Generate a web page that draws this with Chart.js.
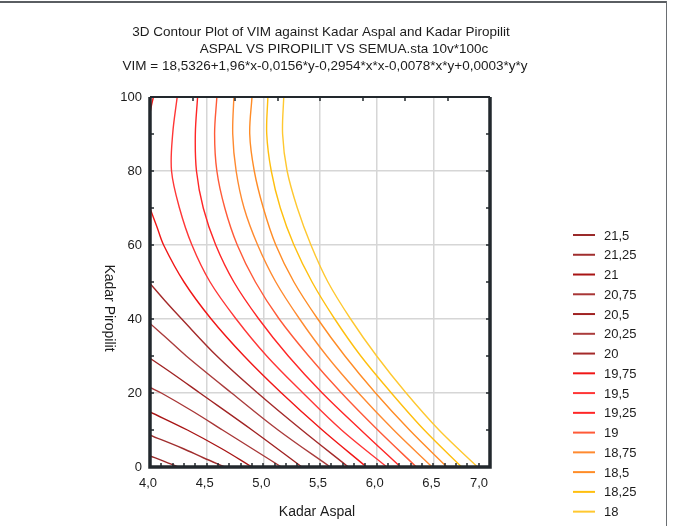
<!DOCTYPE html>
<html>
<head>
<meta charset="utf-8">
<script src="https://cdn.jsdelivr.net/npm/chart.js@4.4.1/dist/chart.umd.min.js"></script>
<style>
  html, body { margin: 0; padding: 0; background: #fff; }
  #wrap { position: relative; width: 675px; height: 526px; }
  #wrap::before { content: ''; position: absolute; left: 0; top: 1px; width: 667px; height: 0; border-top: 2px solid #5a5e62; }
  #wrap::after { content: ''; position: absolute; left: 666px; top: 1px; width: 0; height: 525px; border-left: 1.5px solid #6a6e72; }
</style>
</head>
<body>
<div id="wrap"><canvas id="contourChart" width="675" height="526"></canvas></div>
<script>
'use strict';

// contour levels, top of the legend first
const levels = [21.5, 21.25, 21, 20.75, 20.5, 20.25, 20, 19.75, 19.5, 19.25, 19, 18.75, 18.5, 18.25, 18];

// one polyline per level, [Kadar Aspal, Kadar Piropilit], ordered from top to bottom
const line2150 = [[4.00, 3.0], [4.12, 1.6], [4.25, 0]];
const line2125 = [[4.00, 8.6], [4.29, 5], [4.47, 2.5], [4.66, 0]];
const line2100 = [[4.00, 14.9], [4.33, 10], [4.63, 5], [4.90, 0]];
const line2075 = [[4.00, 21.5], [4.10, 20], [4.38, 15], [4.64, 10], [4.90, 5], [5.16, 0]];
const line2050 = [[4.00, 29.4], [4.21, 25], [4.44, 20], [4.90, 10], [5.34, 0]];
const line2025 = [[4.00, 38.8], [4.14, 35], [4.32, 30], [4.72, 20], [5.13, 10], [5.59, 0]];
const line2000 = [[4.00, 49.6], [4.13, 45], [4.28, 40], [4.59, 30], [4.95, 20], [5.34, 10], [5.75, 0]];
const line1975a = [[4.03, 100], [4.015, 98], [4.00, 95.7]];
const line1975b = [[4.00, 69.9], [4.06, 65], [4.12, 60], [4.30, 50], [4.54, 40], [4.83, 30], [5.16, 20], [5.52, 10], [5.91, 0]];
const line1950 = [[4.24, 100], [4.20, 90], [4.19, 80], [4.26, 70], [4.37, 60], [4.53, 50], [4.76, 40], [5.03, 30], [5.35, 20], [5.69, 10], [6.09, 0]];
const line1925 = [[4.42, 100], [4.40, 90], [4.41, 80], [4.47, 70], [4.58, 60], [4.74, 50], [4.96, 40], [5.22, 30], [5.52, 20], [5.86, 10], [6.21, 0]];
const line1900 = [[4.59, 100], [4.57, 90], [4.59, 80], [4.66, 70], [4.77, 60], [4.93, 50], [5.14, 40], [5.40, 30], [5.69, 20], [6.01, 10], [6.35, 0]];
const line1875 = [[4.74, 100], [4.73, 90], [4.76, 80], [4.83, 70], [4.95, 60], [5.11, 50], [5.32, 40], [5.56, 30], [5.84, 20], [6.15, 10], [6.49, 0]];
const line1850 = [[4.90, 100], [4.88, 90], [4.92, 80], [5.00, 70], [5.11, 60], [5.27, 50], [5.48, 40], [5.72, 30], [5.99, 20], [6.29, 10], [6.62, 0]];
const line1825 = [[5.04, 100], [5.03, 90], [5.07, 80], [5.15, 70], [5.27, 60], [5.43, 50], [5.63, 40], [5.86, 30], [6.13, 20], [6.42, 10], [6.75, 0]];
const line1800 = [[5.18, 100], [5.17, 90], [5.21, 80], [5.30, 70], [5.42, 60], [5.57, 50], [5.77, 40], [6.00, 30], [6.26, 20], [6.55, 10], [6.89, 0]];

const xTicks = [4.0, 4.5, 5.0, 5.5, 6.0, 6.5, 7.0];
const yTicks = [0, 20, 40, 60, 80, 100];

const titleLines = [
    '3D Contour Plot of VIM against Kadar Aspal and Kadar Piropilit',
    'ASPAL VS PIROPILIT VS SEMUA.sta 10v*100c',
    'VIM = 18,5326+1,96*x-0,0156*y-0,2954*x*x-0,0078*x*y+0,0003*y*y'
];
const xTitle = 'Kadar Aspal';
const yTitle = 'Kadar Piropilit';

// dark red for the high values through orange to yellow
const levelColors = ['#9a2a2a', '#a02e2e', '#a81414', '#a83636', '#a02222', '#aa3c3c', '#a42a2a',
    '#f01616', '#ff3636', '#ff2626', '#ff5a38', '#ff8a30', '#ff8c26', '#ffbf0e', '#ffc830'];

const FONT = "'Liberation Sans', Arial, sans-serif";
const INK = '#1c1c1c';

const comma = v => String(v).replace('.', ',');

const segments = [
    [21.5, line2150], [21.25, line2125], [21, line2100], [20.75, line2075], [20.5, line2050],
    [20.25, line2025], [20, line2000], [19.75, line1975a], [19.75, line1975b], [19.5, line1950],
    [19.25, line1925], [19, line1900], [18.75, line1875], [18.5, line1850], [18.25, line1825], [18, line1800]
];

const datasets = segments.map(function (s) {
    return {
        label: comma(s[0]),
        data: s[1].map(p => ({x: p[0], y: p[1]})),
        borderColor: levelColors[levels.indexOf(s[0])],
        borderWidth: 1.4,
        showLine: true,
        tension: 0.35,
        pointRadius: 0,
        fill: false
    };
});

const decor = {
    id: 'decor',
    afterDatasetsDraw(chart) {
        const {ctx, chartArea: a, scales: {x, y}} = chart;
        ctx.save();
        ctx.strokeStyle = '#22282d';
        ctx.lineWidth = 1.5;
        ctx.beginPath();
        // small inward ticks on every side
        for (let i = 0; i <= 30; i++) {
            const px = Math.round(x.getPixelForValue(4 + i / 10));
            ctx.moveTo(px, a.bottom); ctx.lineTo(px, a.bottom - 4);
        }
        for (let i = 0; i <= 8; i++) {
            const px = Math.round(x.getPixelForValue(4 + i * 0.375));
            ctx.moveTo(px, a.top); ctx.lineTo(px, a.top + 4);
        }
        for (let v = 0; v <= 100; v += 10) {
            const py = Math.round(y.getPixelForValue(v));
            ctx.moveTo(a.left, py); ctx.lineTo(a.left + 4, py);
            ctx.moveTo(a.right, py); ctx.lineTo(a.right - 4, py);
        }
        ctx.stroke();

        // frame round the plot
        ctx.lineWidth = 3.5;
        ctx.beginPath();
        ctx.moveTo(a.left, a.top); ctx.lineTo(a.left, a.bottom); ctx.lineTo(a.right, a.bottom); ctx.lineTo(a.right, a.top);
        ctx.stroke();
        ctx.lineWidth = 2;
        ctx.beginPath();
        ctx.moveTo(a.left, a.top); ctx.lineTo(a.right, a.top);
        ctx.stroke();
        ctx.restore();
    },
    afterDraw(chart) {
        const {ctx, chartArea: a, scales: {x}} = chart;
        ctx.save();
        ctx.fillStyle = INK;
        ctx.font = '13.5px ' + FONT;
        ctx.textAlign = 'center';
        ctx.textBaseline = 'alphabetic';
        ctx.fillText(titleLines[0], 321, 36);
        ctx.fillText(titleLines[1], 344, 53);
        ctx.fillText(titleLines[2], 325, 70);

        ctx.font = '13px ' + FONT;
        // x tick labels
        xTicks.forEach(function (v, i) {
            const px = x.getPixelForValue(v);
            ctx.textAlign = i === xTicks.length - 1 ? 'right' : 'center';
            ctx.fillText(v.toFixed(1).replace('.', ','), px - 2, 487);
        });

        // axis titles
        ctx.font = '14px ' + FONT;
        ctx.textAlign = 'center';
        ctx.fillText(xTitle, (a.left + a.right) / 2 - 3, 516);
        ctx.save();
        ctx.translate(109, 308);
        ctx.rotate(Math.PI / 2);
        ctx.textBaseline = 'middle';
        ctx.fillText(yTitle, 0, 0);
        ctx.restore();

        // legend
        ctx.font = '13px ' + FONT;
        ctx.textAlign = 'left';
        ctx.textBaseline = 'middle';
        levels.forEach(function (lv, i) {
            const cy = 235 + i * 19.76;
            ctx.strokeStyle = levelColors[i];
            ctx.lineWidth = 2;
            ctx.beginPath();
            ctx.moveTo(573, cy); ctx.lineTo(595, cy);
            ctx.stroke();
            ctx.fillText(comma(lv), 604, cy + 1);
        });
        ctx.restore();
    }
};

new Chart('contourChart', {
    type: 'scatter',
    data: {datasets: datasets},
    options: {
        responsive: false,
        animation: false,
        layout: {padding: {left: 0, top: 97, right: 185, bottom: 0}},
        plugins: {legend: {display: false}, tooltip: {enabled: false}},
        scales: {
            x: {
                type: 'linear', min: 4, max: 7,
                afterBuildTicks(s) { s.ticks = xTicks.map(v => ({value: v})); },
                ticks: {display: false},
                grid: {color: '#d6d6d6', lineWidth: 1.5, drawTicks: false},
                border: {display: false},
                afterFit(s) { s.height = 59; }
            },
            y: {
                type: 'linear', min: 0, max: 100,
                afterBuildTicks(s) { s.ticks = yTicks.map(v => ({value: v})); },
                ticks: {padding: 8, color: INK, font: {family: FONT, size: 13}},
                grid: {color: '#d6d6d6', lineWidth: 1.5, drawTicks: false},
                border: {display: false},
                afterFit(s) { s.width = 150; }
            }
        }
    },
    plugins: [decor]
});
</script>
</body>
</html>
